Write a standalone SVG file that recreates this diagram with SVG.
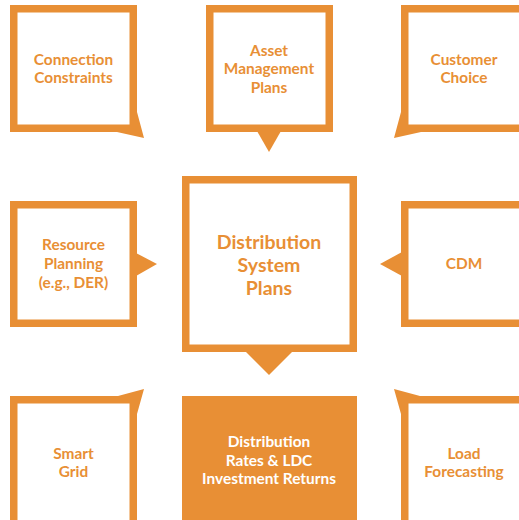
<svg xmlns="http://www.w3.org/2000/svg" width="519" height="520" viewBox="0 0 519 520">
<style>
.box{fill:#fff;stroke:#E88F35;stroke-width:7.5}
.tail{fill:#E88F35}
.t{font-family:Lato,"Liberation Sans",sans-serif;font-weight:bold;font-size:15.4px;fill:#E88F35;text-anchor:middle}
.big{font-size:19.5px}
.w{fill:#fff}
</style>
<rect width="519" height="520" fill="#fff"/>
<g id="connectors">
<polygon class="tail" points="129,112 137,112 144,138 117,132 117,124 129,124"/>
<polygon class="tail" points="257,131 281,131 269,152"/>
<polygon class="tail" points="409,112 401,112 394,138 421,132 421,124 409,124"/>
<polygon class="tail" points="136,253 136,276 157,264"/>
<polygon class="tail" points="402,252 402,276 380,264"/>
<polygon class="tail" points="245,351 293,351 269,375"/>
<polygon class="tail" points="118,403.5 118,396 144,389 137,414 129,414 129,403.5"/>
<polygon class="tail" points="420,403.5 420,396 394,389 401,414 409,414 409,403.5"/>
</g>
<g id="connection-constraints">
<rect class="box" x="13.75" y="8.75" width="119.5" height="119.5"/>
<text class="t" x="73.5" y="65">Connection</text>
<text class="t" x="73.5" y="83">Constraints</text>
</g>
<g id="asset-management">
<rect class="box" x="209.75" y="8.75" width="119.5" height="119.5"/>
<text class="t" x="269" y="55.5">Asset</text>
<text class="t" x="269" y="74">Management</text>
<text class="t" x="269" y="92.5">Plans</text>
</g>
<g id="customer-choice">
<rect class="box" x="404.75" y="8.75" width="119.5" height="119.5"/>
<text class="t" x="464" y="65">Customer</text>
<text class="t" x="464" y="83">Choice</text>
</g>
<g id="resource-planning">
<rect class="box" x="13.75" y="204.75" width="119.5" height="118.5"/>
<text class="t" x="73.5" y="250">Resource</text>
<text class="t" x="73.5" y="269">Planning</text>
<text class="t" x="73.5" y="288">(e.g., DER)</text>
</g>
<g id="distribution-system-plans">
<rect class="box" x="185.75" y="179.75" width="167.5" height="168.5"/>
<text class="t big" x="269" y="248.5">Distribution</text>
<text class="t big" x="269" y="271.5">System</text>
<text class="t big" x="269" y="294.5">Plans</text>
</g>
<g id="cdm">
<rect class="box" x="404.75" y="204.75" width="119.5" height="118.5"/>
<text class="t" x="464" y="268.5">CDM</text>
</g>
<g id="smart-grid">
<rect class="box" x="13.75" y="399.75" width="119.5" height="130"/>
<text class="t" x="73.5" y="459">Smart</text>
<text class="t" x="73.5" y="477">Grid</text>
</g>
<g id="distribution-rates">
<rect x="182" y="396" width="175" height="130" fill="#E88F35"/>
<text class="t w" x="269" y="447">Distribution</text>
<text class="t w" x="269" y="465.5">Rates &amp; LDC</text>
<text class="t w" x="269" y="484">Investment Returns</text>
</g>
<g id="load-forecasting">
<rect class="box" x="404.75" y="399.75" width="119.5" height="130"/>
<text class="t" x="464" y="458.5">Load</text>
<text class="t" x="464" y="477">Forecasting</text>
</g>
</svg>
